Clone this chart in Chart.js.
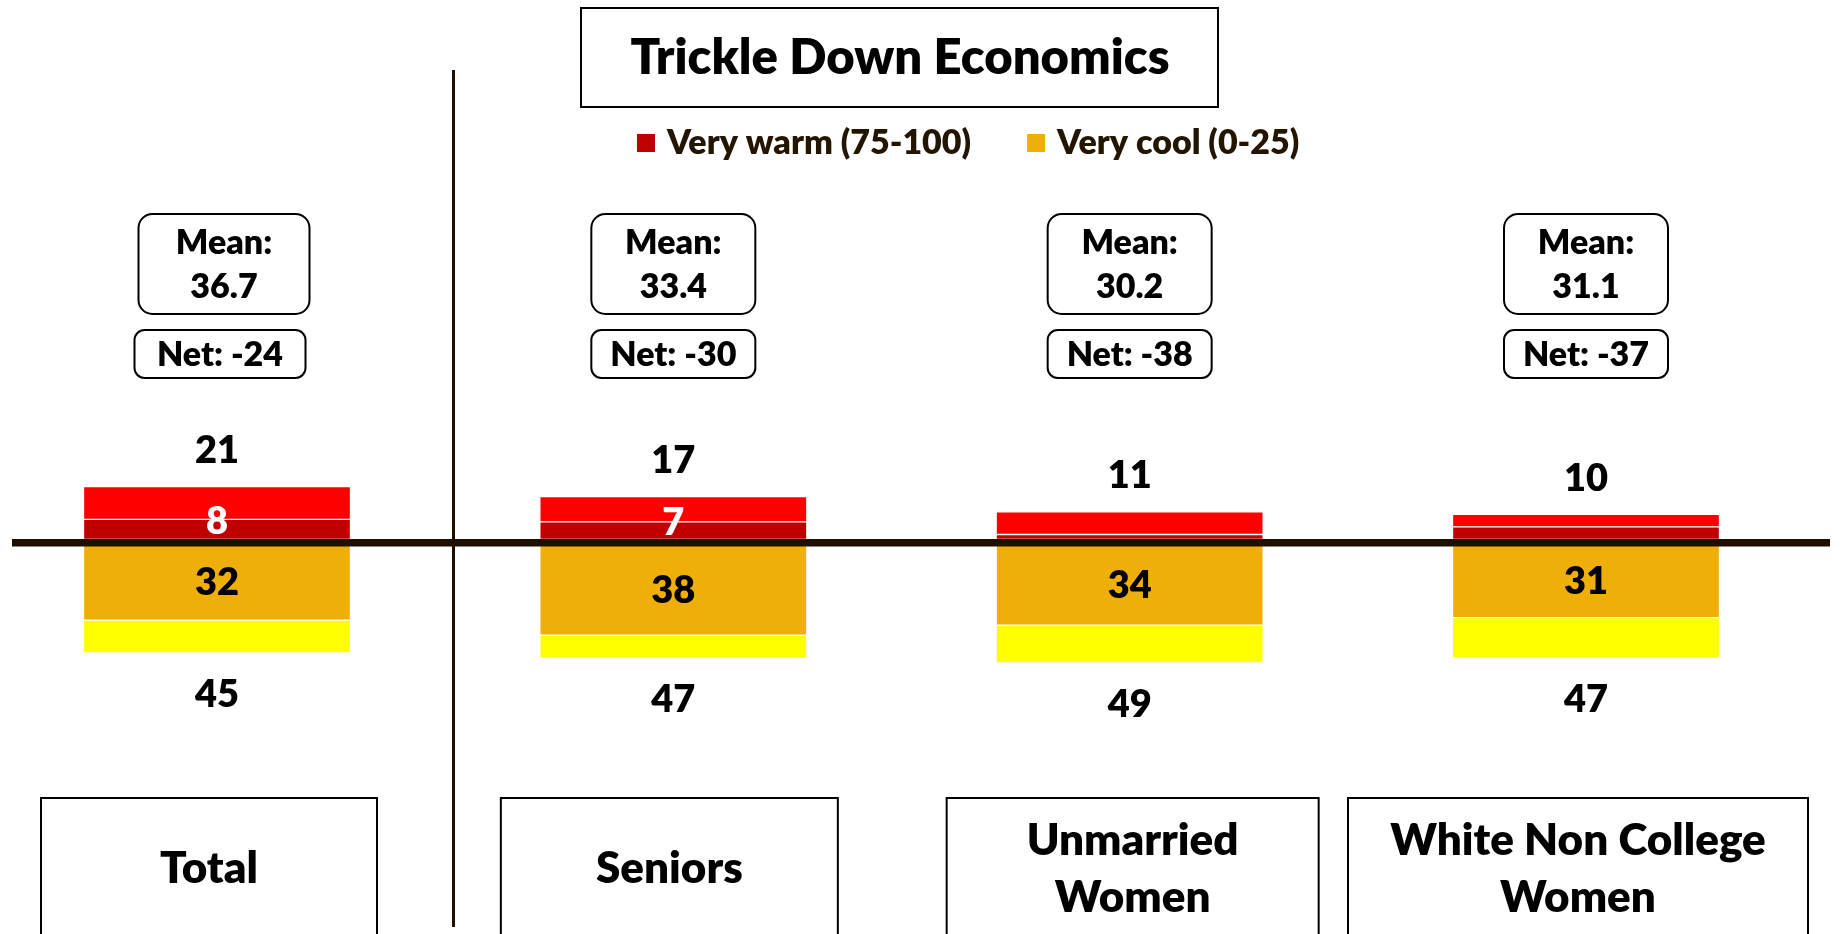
<!DOCTYPE html>
<html>
<head>
<meta charset="utf-8">
<title>Trickle Down Economics</title>
<script src="https://cdn.jsdelivr.net/npm/chart.js@4.4.0/dist/chart.umd.min.js"></script>
<style>
  html, body { margin: 0; padding: 0; background: #fff; }
  #wrap { width: 1841px; height: 934px; position: relative; }
</style>
</head>
<body>
<div id="wrap"><canvas id="chart"></canvas></div>
<script>
// data
const categories = [["Total"], ["Seniors"], ["Unmarried", "Women"], ["White Non College", "Women"]];
const warmTotal = [21, 17, 11, 10];
const veryWarm = [8, 7, 2, 5];
const coolTotal = [45, 47, 49, 47];
const veryCool = [32, 38, 34, 31];
const means = [36.7, 33.4, 30.2, 31.1];
const nets = [-24, -30, -38, -37];
const showWarmLabel = [true, true, false, false];

const FONT = "Lato, 'Open Sans', sans-serif";
const WEIGHT = 800;
const LINE = "#1f0f00";
// box layout around each bar
const catBoxWidths = [336, 337, 372, 460];
const catBoxShift = [-8, -4, 3, -8];
const meanBoxWidths = [171, 164, 164, 164];
const meanBoxShift = [7, 0, 0, 0];
const netBoxShift = [3, 0, 0, 0];

function roundBox(ctx, x, y, w, h, r) {
  ctx.beginPath();
  ctx.moveTo(x + r, y);
  ctx.arcTo(x + w, y, x + w, y + h, r);
  ctx.arcTo(x + w, y + h, x, y + h, r);
  ctx.arcTo(x, y + h, x, y, r);
  ctx.arcTo(x, y, x + w, y, r);
  ctx.closePath();
  ctx.stroke();
}

function text(ctx, str, x, y, size, color, align = "center") {
  ctx.font = `${WEIGHT} ${size}px ${FONT}`;
  ctx.fillStyle = color;
  ctx.textAlign = align;
  ctx.textBaseline = "middle";
  ctx.fillText(str, x, y);
}

const decor = {
  id: "decor",
  beforeDraw(chart) {
    const { ctx, width, height } = chart;
    ctx.save();
    ctx.fillStyle = "#fff";
    ctx.fillRect(0, 0, width, height);
    ctx.restore();
  },
  afterDatasetsDraw(chart) {
    const { ctx, scales: { x, y } } = chart;
    const zero = y.getPixelForValue(0);
    ctx.save();

    // axis line and divider
    ctx.fillStyle = LINE;
    ctx.fillRect(12, zero - 0.5, 1818, 7.5);
    ctx.fillRect(452, 70, 3, 857);

    // title
    ctx.lineWidth = 2;
    ctx.strokeStyle = "#000";
    ctx.strokeRect(581, 8, 637, 99);
    text(ctx, "Trickle Down Economics", 900, 58, 49, "#000");

    // legend (very warm, very cool only)
    let lx = 637;
    [0, 2].forEach((i) => {
      const ds = chart.data.datasets[i];
      ctx.fillStyle = ds.backgroundColor;
      ctx.fillRect(lx, 134, 18, 18);
      text(ctx, ds.label, lx + 30, 143, 34, "#231500", "left");
      lx += 30 + ctx.measureText(ds.label).width + 56;
    });

    const vwMeta = chart.getDatasetMeta(0);
    const swMeta = chart.getDatasetMeta(1);
    const vcMeta = chart.getDatasetMeta(2);
    const scMeta = chart.getDatasetMeta(3);

    categories.forEach((cat, i) => {
      const cx = x.getPixelForValue(i);
      const top = swMeta.data[i].y;
      const bottom = scMeta.data[i].y;

      text(ctx, String(warmTotal[i]), cx, top - 36, 38, "#000");
      text(ctx, String(coolTotal[i]), cx, bottom + 42, 38, "#000");

      if (showWarmLabel[i]) {
        const b = vwMeta.data[i];
        text(ctx, String(veryWarm[i]), cx, (b.y + b.base) / 2 - 8, 38, "#fff");
      }
      const c = vcMeta.data[i];
      text(ctx, String(veryCool[i]), cx, (c.y + c.base) / 2 + 3, 38, "#000");

      // mean / net boxes
      const mx = cx + meanBoxShift[i];
      const nx = cx + netBoxShift[i];
      const mw = meanBoxWidths[i];
      ctx.lineWidth = 2;
      ctx.strokeStyle = "#000";
      roundBox(ctx, mx - mw / 2, 214, mw, 100, 14);
      text(ctx, "Mean:", mx, 243, 34, "#000");
      text(ctx, means[i].toFixed(1), mx, 287, 34, "#000");
      roundBox(ctx, nx - mw / 2, 330, mw, 48, 10);
      text(ctx, `Net: ${nets[i]}`, nx, 355, 34, "#000");

      // category box
      const bx = cx + catBoxShift[i];
      const w = catBoxWidths[i];
      ctx.lineWidth = 2;
      ctx.strokeRect(bx - w / 2, 798, w, 160);
      const y0 = 869 - ((cat.length - 1) * 57) / 2;
      cat.forEach((line, k) => text(ctx, line, bx, y0 + k * 57, 44, "#000"));
    });

    ctx.restore();
  },
};

const somewhatWarm = warmTotal.map((v, i) => v - veryWarm[i]);
const somewhatCool = coolTotal.map((v, i) => v - veryCool[i]);

const barStyle = {
  borderColor: "#fff",
  borderWidth: 1,
  borderSkipped: false,
  barThickness: 267,
  stack: "s",
  clip: false,
};

new Chart(document.getElementById("chart"), {
  type: "bar",
  data: {
    labels: categories.map((c) => c.join(" ")),
    datasets: [
      { label: "Very warm (75-100)", data: veryWarm, backgroundColor: "#C00000", ...barStyle },
      { label: "Somewhat warm", data: somewhatWarm, backgroundColor: "#FF0000", ...barStyle },
      { label: "Very cool (0-25)", data: veryCool.map((v) => -v), backgroundColor: "#F0AE08", ...barStyle },
      { label: "Somewhat cool", data: somewhatCool.map((v) => -v), backgroundColor: "#FFFF00", ...barStyle },
    ],
  },
  options: {
    responsive: true,
    maintainAspectRatio: false,
    animation: false,
    events: [],
    layout: {
      padding: { left: 217, right: 255, top: 287.5, bottom: 142.5 },
    },
    plugins: {
      legend: { display: false },
      tooltip: { enabled: false },
    },
    scales: {
      x: {
        stacked: true,
        offset: false,
        display: false,
        grid: { display: false },
      },
      y: {
        stacked: true,
        min: -100,
        max: 100,
        display: false,
        grid: { display: false },
      },
    },
  },
  plugins: [decor],
});
</script>
</body>
</html>
